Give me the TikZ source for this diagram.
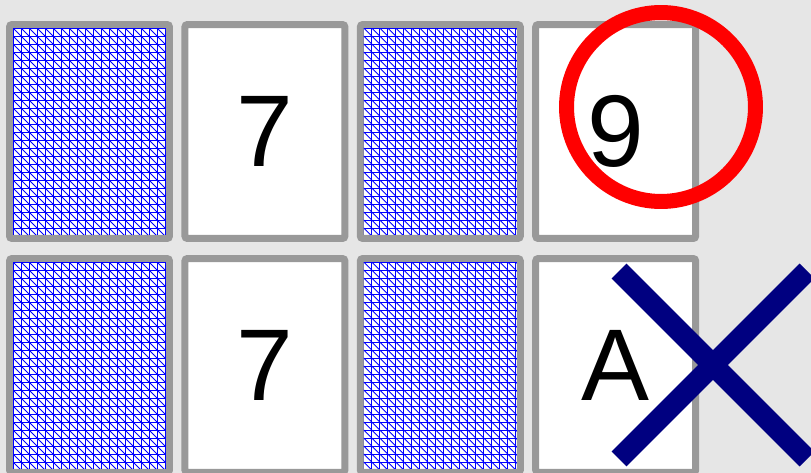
\documentclass[tikz,border=0pt]{standalone}
\usepackage{fontspec}
\setmainfont{Liberation Sans}
\usetikzlibrary{calc}
\definecolor{bgc}{HTML}{E6E6E6}
\definecolor{edgec}{HTML}{999999}
\definecolor{backc}{HTML}{0000FF}
\definecolor{ringc}{HTML}{FF0000}
\definecolor{crossc}{HTML}{000080}

\begin{document}
\begin{tikzpicture}[x=0.02cm,y=-0.02cm,
    card/.style={draw=edgec,fill=white,line width=0.14cm,rounded corners=0.05cm,
      minimum width=3.2cm,minimum height=4.28cm,outer sep=0pt,inner sep=0pt,
      font=\fontsize{58}{58}\selectfont},
    gridline/.style={draw=backc,line width=0.5pt}]
  \useasboundingbox (0,0) rectangle (811,473);
  \fill[bgc] (0,0) rectangle (811,473);

  % ============================================================
  %                       PARAMETERS
  % ============================================================
  \def\colOne{89.5}
  \def\cardStep{175.4}
  \def\rowOne{131.5}
  \def\rowTwo{365.5}
  \def\cellSize{8}
  \def\halfEdge{3.5}

  % ============================================================
  %                       CARDS
  % ============================================================
  \node[card] (back11) at (\colOne,\rowOne) {};
  \node[card] (seven1) at (\colOne+\cardStep,\rowOne) {7};
  \node[card] (back13) at (\colOne+2*\cardStep,\rowOne) {};
  \node[card] (nine)   at (\colOne+3*\cardStep,\rowOne) {9};

  \node[card] (back21) at (\colOne,\rowTwo) {};
  \node[card] (seven2) at (\colOne+\cardStep,\rowTwo) {7};
  \node[card] (back23) at (\colOne+2*\cardStep,\rowTwo) {};
  \node[card] (ace)    at (\colOne+3*\cardStep,\rowTwo) {A};

  % ============================================================
  %                       CARD BACKS (blue grid)
  % ============================================================
  \foreach \c in {back11,back13,back21,back23} {
    \begin{scope}
      \clip ($(\c.north west)+(\halfEdge,\halfEdge)$)
        rectangle ($(\c.south east)+(-\halfEdge,-\halfEdge)$);
      \foreach \k in {0,...,19}
        \draw[gridline] ($(\c.north west)+(\halfEdge+\k*\cellSize,0)$) -- ++(0,230);
      \foreach \k in {0,...,26}
        \draw[gridline] ($(\c.north west)+(0,\halfEdge+\k*\cellSize)$) -- ++(170,0);
      \foreach \k in {0,...,48}
        \draw[gridline] ($(\c.north west)+(\halfEdge-216+\k*\cellSize,\halfEdge)$) -- ++(240,240);
    \end{scope}
  }

  % ============================================================
  %                       MARKS
  % ============================================================
  \draw[ringc,line width=0.3cm] (661,107) circle [radius=1.89cm];
  \draw[crossc,line width=0.42cm] (619,271) -- (807,459) (619,459) -- (807,271);

\end{tikzpicture}
\end{document}
